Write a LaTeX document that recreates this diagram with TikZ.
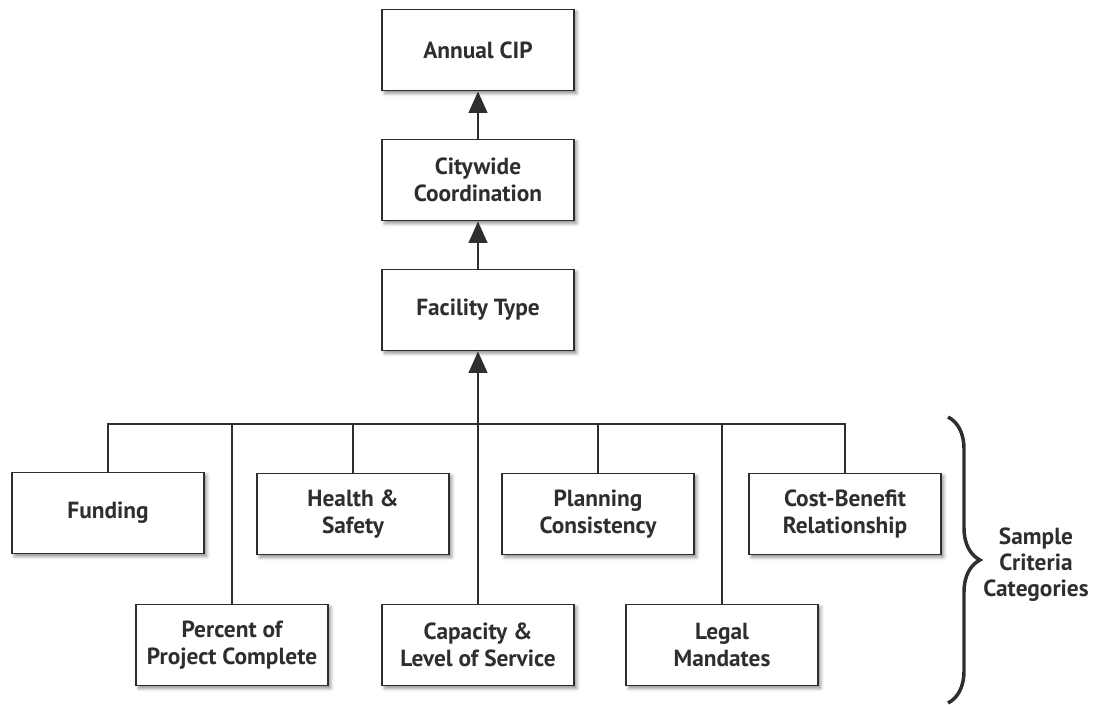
\documentclass[tikz,border=0pt]{standalone}
\usepackage{fontspec}
\setmainfont{PT Sans}
\usetikzlibrary{arrows.meta,shadows.blur,decorations.pathreplacing}

\definecolor{ink}{HTML}{2E2E2E}

\tikzset{
    box/.style={rectangle, draw=ink, line width=1.2pt, fill=white, text=ink,
        minimum width=144pt, minimum height=61pt, align=center,
        font=\fontsize{17.5}{20.5}\selectfont\bfseries,
        blur shadow={shadow xshift=2pt, shadow yshift=-2pt, shadow blur radius=2.5pt, shadow opacity=45}},
    link/.style={draw=ink, line width=1.3pt},
    uparrow/.style={link, -{Triangle[length=16pt,width=14pt]}}
}

\begin{document}
\begin{tikzpicture}[x=0.75pt,y=-0.75pt]
    \useasboundingbox (0,0) rectangle (1093,705);
    % top chain
    \node[box] (cip)  at (478, 50) {Annual CIP};
    \node[box] (city) at (478,180) {Citywide\\Coordination};
    \node[box] (fac)  at (478,310) {Facility Type};
    % criteria, upper row
    \node[box] (fund)   at (108,513) {Funding};
    \node[box] (health) at (353,514) {Health \&\\Safety};
    \node[box] (plan)   at (598,514) {Planning\\Consistency};
    \node[box] (cost)   at (845,514) {Cost-Benefit\\Relationship};
    % criteria, lower row
    \node[box] (pct)   at (232,645) {Percent of\\Project Complete};
    \node[box] (cap)   at (478,645) {Capacity \&\\Level of Service};
    \node[box] (legal) at (722,645) {Legal\\Mandates};

    \coordinate (bus) at (478,424);
    \draw[link] (fund.north) |- (bus) -| (cost.north);
    \foreach \n in {health,plan,pct,legal}
        \draw[link] (\n.north) -- (\n.north |- bus);
    \draw[uparrow] (cap.north) -- (fac.south);
    \draw[uparrow] (fac.north) -- (city.south);
    \draw[uparrow] (city.north) -- (cip.south);

    % brace and its label
    \coordinate (braceT) at (948,417);
    \coordinate (braceB) at (948,703);
    \draw[ink, line width=2.6pt, decorate, decoration={brace, amplitude=24pt}] (braceT) -- (braceB);
    \node[text=ink, align=center, font=\fontsize{17.5}{19.5}\selectfont\bfseries] (crit) at (1036,565) {Sample\\Criteria\\Categories};
\end{tikzpicture}
\end{document}
